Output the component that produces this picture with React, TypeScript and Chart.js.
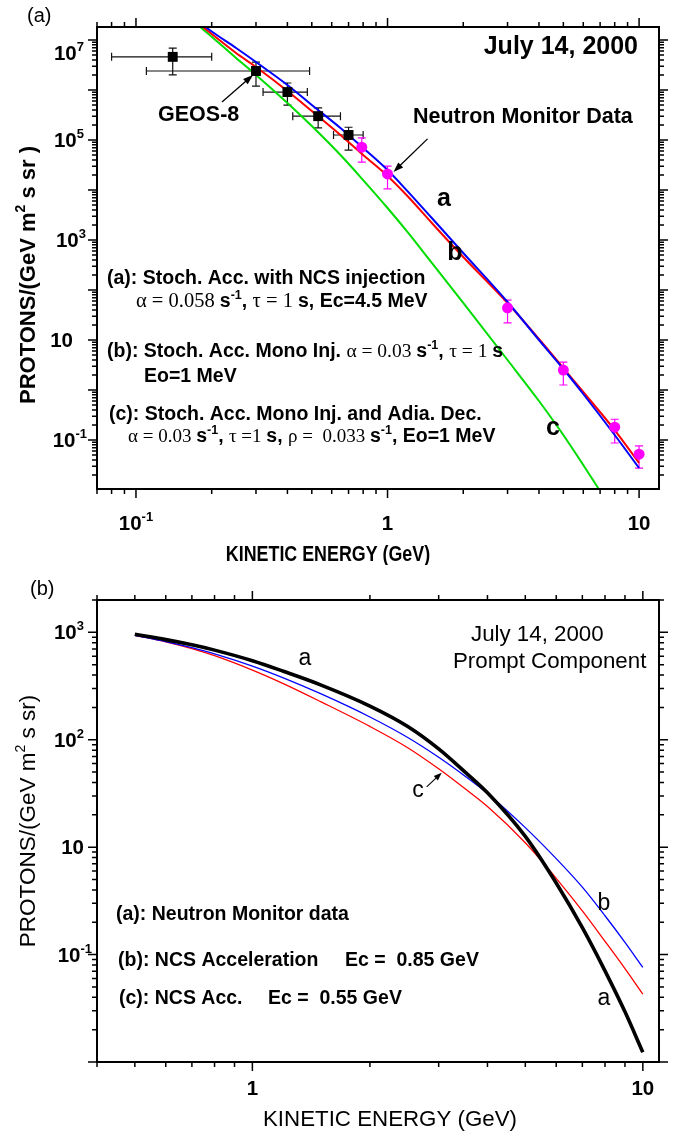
import React, { useEffect, useRef } from 'react';
import { Chart, registerables } from 'chart.js';
Chart.register(...registerables);

// ================= Panel (a) data =================
// model curves (GeV, protons/(GeV m^2 s sr))
const energyCurvesA = [0.18, 0.2, 0.25, 0.3, 0.4, 0.5, 0.65, 0.8, 1, 1.2, 1.5, 2, 3, 4, 5, 6, 8, 10];
const fluxStochNCS = [2.19e7, 1.48e7, 6.92e6, 3.63e6, 1.26e6, 5.01e5, 1.74e5, 6.92e4, 2.51e4, 9.5e3, 2.75e3, 550, 57.5, 10, 2.63, 0.832, 0.126, 0.0275]; // (a) blue
const fluxStochMono = [2.0e7, 1.32e7, 5.5e6, 2.88e6, 9.55e5, 3.8e5, 1.26e5, 5.01e4, 1.91e4, 7.59e3, 2.19e3, 457, 55, 10.5, 2.75, 0.912, 0.158, 0.0347]; // (b) red
const energyCurveAdia = [0.18, 0.2, 0.25, 0.3, 0.4, 0.5, 0.65, 0.8, 1, 1.2, 1.5, 2, 3, 4, 5, 6, 7, 8];
const fluxStochAdia = [1.82e7, 1.16e7, 4.37e6, 2.0e6, 5.5e5, 1.9e5, 5.0e4, 1.58e4, 4.37e3, 1.45e3, 347, 55, 3.98, 0.603, 0.126, 0.0316, 0.0095, 0.00316]; // (c) green

// GEOS-8 points
const geosEnergy = [0.14, 0.3, 0.4, 0.53, 0.7];
const geosFlux = [4.6e6, 2.4e6, 9.1e5, 3.0e5, 1.26e5];
const geosEnergyLow = [0.08, 0.11, 0.32, 0.42, 0.61];
const geosEnergyHigh = [0.2, 0.49, 0.48, 0.65, 0.8];
const geosFluxLow = [2.0e6, 1.2e6, 5.0e5, 1.74e5, 6.3e4];
const geosFluxHigh = [6.9e6, 3.6e6, 1.38e6, 4.4e5, 1.8e5];

// Neutron monitor points
const nmEnergy = [0.79, 1.0, 3.0, 5.0, 8.0, 10.0];
const nmFlux = [7.2e4, 2.1e4, 44, 2.5, 0.18, 0.052];
const nmFluxLow = [3.6e4, 1.05e4, 22, 1.26, 0.087, 0.0275];
const nmFluxHigh = [1.1e5, 3.0e4, 63, 3.6, 0.26, 0.076];

// axis ranges and tick labels (a)
const xRangeA = [0.07, 12];
const yRangeA = [0.01047, 1.82e7];
const xTicksA = [0.1, 1, 10];
const xTickLabelsA = [['10', '-1'], ['1', ''], ['10', '']];
const yTicksA = [1e7, 1e5, 1e3, 10, 0.1];
const yTickLabelsA = [['10', '7'], ['10', '5'], ['10', '3'], ['10', ''], ['10', '-1']];

// ================= Panel (b) data =================
const energyB = [0.5, 0.6, 0.7, 0.8, 1.0, 1.2, 1.5, 2, 2.5, 3, 3.5, 4, 5, 6, 7, 8, 9, 10];
const fluxNeutronMonitor = [958, 855, 765, 683, 544, 434, 323, 206, 133, 82.3, 50.3, 32.1, 12.6, 4.64, 1.78, 0.705, 0.293, 0.123]; // (a) black
const fluxNCS085 = [938, 821, 719, 630, 485, 377, 267, 163, 105, 68.7, 46.0, 31.6, 15.2, 7.82, 4.24, 2.3, 1.3, 0.759]; // (b) blue
const fluxNCS055 = [938, 816, 705, 606, 445, 333, 225, 133, 84.3, 53.6, 35.1, 23.9, 11.0, 5.13, 2.55, 1.33, 0.741, 0.429]; // (c) red

const xRangeB = [0.4, 11];
const yRangeB = [0.1, 2000];
const xTicksB = [1, 10];
const xTickLabelsB = ['1', '10'];
const yTicksB = [1000, 100, 10, 1];
const yTickLabelsB = [['10', '3'], ['10', '2'], ['10', ''], ['10', '-1']];

// ================= helpers =================
const SB = (n: number) => `bold ${n}px "Liberation Sans", Arial, Helvetica, sans-serif`;
const SR = (n: number) => `${n}px "Liberation Sans", Arial, Helvetica, sans-serif`;
const SF = (n: number) => `${n}px "Liberation Serif", "Times New Roman", serif`;

type Seg = { t: string; f: string; dy?: number };

function drawRich(ctx: CanvasRenderingContext2D, segs: Seg[], x: number, y: number, align: 'left' | 'center' | 'right' = 'left', sx = 1) {
  ctx.save();
  ctx.textBaseline = 'alphabetic';
  ctx.textAlign = 'left';
  let w = 0;
  for (const s of segs) {
    ctx.font = s.f;
    w += ctx.measureText(s.t).width;
  }
  w *= sx;
  const x0 = align === 'left' ? x : align === 'center' ? x - w / 2 : x - w;
  ctx.translate(x0, y);
  ctx.scale(sx, 1);
  let px = 0;
  for (const s of segs) {
    ctx.font = s.f;
    ctx.fillText(s.t, px, s.dy || 0);
    px += ctx.measureText(s.t).width;
  }
  ctx.restore();
}

const pts = (xs: number[], ys: number[]) => xs.map((x, i) => ({ x, y: ys[i] }));

function logTicks(min: number, max: number) {
  const out: { v: number; major: boolean }[] = [];
  for (let e = Math.floor(Math.log10(min)) - 1; e <= Math.ceil(Math.log10(max)); e++) {
    for (let k = 1; k <= 9; k++) {
      const v = k * Math.pow(10, e);
      if (v >= min * (1 - 1e-6) && v <= max * (1 + 1e-6)) out.push({ v, major: k === 1 });
    }
  }
  return out;
}

function drawFrame(chart: any) {
  const { ctx, chartArea } = chart;
  const { left, right, top, bottom } = chartArea;
  const xs = chart.scales.x;
  const ys = chart.scales.y;
  ctx.save();
  ctx.strokeStyle = '#000';
  ctx.lineWidth = 1.5;
  ctx.beginPath();
  for (const t of logTicks(xs.min, xs.max)) {
    const px = xs.getPixelForValue(t.v);
    const len = t.major ? 9 : 5;
    ctx.moveTo(px, bottom);
    ctx.lineTo(px, bottom + len);
    ctx.moveTo(px, top);
    ctx.lineTo(px, top - len);
  }
  for (const t of logTicks(ys.min, ys.max)) {
    const py = ys.getPixelForValue(t.v);
    const len = t.major ? 9 : 5;
    ctx.moveTo(left, py);
    ctx.lineTo(left - len, py);
    ctx.moveTo(right, py);
    ctx.lineTo(right + len, py);
  }
  ctx.stroke();
  ctx.lineWidth = 2;
  ctx.strokeRect(left, top, right - left, bottom - top);
  ctx.restore();
}

function errorBars(ctx: CanvasRenderingContext2D, xs: any, ys: any, ex: number[], ey: number[],
  xlo: number[] | null, xhi: number[] | null, ylo: number[] | null, yhi: number[] | null, color: string) {
  ctx.save();
  ctx.strokeStyle = color;
  ctx.lineWidth = 1.2;
  ctx.beginPath();
  ex.forEach((e, i) => {
    const px = xs.getPixelForValue(e);
    const py = ys.getPixelForValue(ey[i]);
    if (ylo && yhi) {
      const y1 = ys.getPixelForValue(ylo[i]);
      const y2 = ys.getPixelForValue(yhi[i]);
      ctx.moveTo(px, y1); ctx.lineTo(px, y2);
      ctx.moveTo(px - 4, y1); ctx.lineTo(px + 4, y1);
      ctx.moveTo(px - 4, y2); ctx.lineTo(px + 4, y2);
    }
    if (xlo && xhi) {
      const x1 = xs.getPixelForValue(xlo[i]);
      const x2 = xs.getPixelForValue(xhi[i]);
      ctx.moveTo(x1, py); ctx.lineTo(x2, py);
      ctx.moveTo(x1, py - 4); ctx.lineTo(x1, py + 4);
      ctx.moveTo(x2, py - 4); ctx.lineTo(x2, py + 4);
    }
  });
  ctx.stroke();
  ctx.restore();
}

function arrow(ctx: CanvasRenderingContext2D, x1: number, y1: number, x2: number, y2: number, head = 10, w = 3.5, lw = 1.3) {
  const a = Math.atan2(y2 - y1, x2 - x1);
  ctx.save();
  ctx.strokeStyle = '#000';
  ctx.fillStyle = '#000';
  ctx.lineWidth = lw;
  ctx.beginPath();
  ctx.moveTo(x1, y1);
  ctx.lineTo(x2 - head * 0.8 * Math.cos(a), y2 - head * 0.8 * Math.sin(a));
  ctx.stroke();
  ctx.beginPath();
  ctx.moveTo(x2, y2);
  ctx.lineTo(x2 - head * Math.cos(a) + w * Math.sin(a), y2 - head * Math.sin(a) - w * Math.cos(a));
  ctx.lineTo(x2 - head * Math.cos(a) - w * Math.sin(a), y2 - head * Math.sin(a) + w * Math.cos(a));
  ctx.closePath();
  ctx.fill();
  ctx.restore();
}

const sup = (t: string, n = 12.5, dy = -8): Seg => ({ t, f: SB(n), dy });

// ================= Panel (a) decorations =================
const decoA = {
  id: 'decoA',
  beforeDatasetsDraw(chart: any) {
    const { ctx } = chart;
    const xs = chart.scales.x;
    const ys = chart.scales.y;
    errorBars(ctx, xs, ys, geosEnergy, geosFlux, geosEnergyLow, geosEnergyHigh, geosFluxLow, geosFluxHigh, '#111');
    errorBars(ctx, xs, ys, nmEnergy, nmFlux, null, null, nmFluxLow, nmFluxHigh, '#ff00ff');
  },
  afterDraw(chart: any) {
    const { ctx } = chart;
    const xs = chart.scales.x;
    const ys = chart.scales.y;
    drawFrame(chart);
    ctx.save();
    ctx.fillStyle = '#000';

    // panel label
    drawRich(ctx, [{ t: '(a)', f: SR(20) }], 27, 22);

    // y tick labels
    const yRight = [84, 84, 86, 73, 87];
    const yDy = [13, 0, 0, 0, 0];
    yTicksA.forEach((v, i) => {
      const py = ys.getPixelForValue(v) + 7 + yDy[i];
      const [b, e] = yTickLabelsA[i];
      const segs: Seg[] = [{ t: b, f: SB(20.5) }];
      if (e) segs.push(sup(e, 13, -9));
      drawRich(ctx, segs, yRight[i], py, 'right');
    });
    // x tick labels
    xTicksA.forEach((v, i) => {
      const px = xs.getPixelForValue(v);
      const [b, e] = xTickLabelsA[i];
      const segs: Seg[] = [{ t: b, f: SB(20.5) }];
      if (e) segs.push(sup(e, 13, -9));
      drawRich(ctx, segs, px, 530, 'center');
    });

    // axis titles
    drawRich(ctx, [{ t: 'KINETIC ENERGY (GeV)', f: SB(21.5) }], 328, 561, 'center', 0.83);
    ctx.save();
    ctx.translate(35, 275);
    ctx.rotate(-Math.PI / 2);
    drawRich(ctx, [{ t: 'PROTONS/(GeV m', f: SB(22) }, { t: '2', f: SB(14), dy: -10 }, { t: ' s sr )', f: SB(22) }], 0, 0, 'center');
    ctx.restore();

    // annotations
    drawRich(ctx, [{ t: 'July 14, 2000', f: SB(25) }], 638, 54, 'right');
    drawRich(ctx, [{ t: 'Neutron Monitor Data', f: SB(21.5) }], 413, 123);
    drawRich(ctx, [{ t: 'GEOS-8', f: SB(21.5) }], 158, 121);

    const gx = xs.getPixelForValue(geosEnergy[1]) - 3;
    const gy = ys.getPixelForValue(geosFlux[1]) + 4;
    arrow(ctx, gx - 31, gy + 27, gx, gy);
    const nx = xs.getPixelForValue(nmEnergy[1]) + 6;
    const ny = ys.getPixelForValue(nmFlux[1]) - 2;
    arrow(ctx, nx + 34, ny - 33, nx, ny);

    // legend text
    const L = 19.5;
    const G = 20.5;
    const G2 = 19;
    drawRich(ctx, [{ t: '(a): Stoch. Acc. with NCS injection', f: SB(L) }], 107, 284);
    drawRich(ctx, [
      { t: 'α = 0.058 ', f: SF(G) }, { t: 's', f: SB(L) }, sup('-1'), { t: ', ', f: SB(L) },
      { t: 'τ = 1 ', f: SF(G) }, { t: 's, Ec=4.5 MeV', f: SB(L) },
    ], 136, 307);
    drawRich(ctx, [
      { t: '(b): Stoch. Acc. Mono Inj. ', f: SB(L) }, { t: 'α = 0.03 ', f: SF(G2 + 0.5) }, { t: 's', f: SB(L) }, sup('-1'),
      { t: ', ', f: SB(L) }, { t: 'τ = 1 ', f: SF(G2 + 0.5) }, { t: 's', f: SB(L) },
    ], 107, 357);
    drawRich(ctx, [{ t: 'Eo=1 MeV', f: SB(L) }], 144, 382);
    drawRich(ctx, [{ t: '(c): Stoch. Acc. Mono Inj. and Adia. Dec.', f: SB(L) }], 109, 420);
    drawRich(ctx, [
      { t: 'α = 0.03 ', f: SF(G2) }, { t: 's', f: SB(L) }, sup('-1'), { t: ', ', f: SB(L) },
      { t: 'τ =1 ', f: SF(G2) }, { t: 's, ', f: SB(L) }, { t: 'ρ =  0.033 ', f: SF(G2) }, { t: 's', f: SB(L) }, sup('-1'),
      { t: ', Eo=1 MeV', f: SB(L) },
    ], 128, 442);

    // curve labels
    drawRich(ctx, [{ t: 'a', f: SB(25) }], 444, 206, 'center');
    drawRich(ctx, [{ t: 'b', f: SB(25) }], 455, 260, 'center');
    drawRich(ctx, [{ t: 'c', f: SB(25) }], 553, 435, 'center');
    ctx.restore();
  },
};

// ================= Panel (b) decorations =================
const decoB = {
  id: 'decoB',
  afterDraw(chart: any) {
    const { ctx } = chart;
    const xs = chart.scales.x;
    const ys = chart.scales.y;
    drawFrame(chart);
    ctx.save();
    ctx.fillStyle = '#000';

    drawRich(ctx, [{ t: '(b)', f: SR(20) }], 30, 30);

    const yRight = [84, 84, 84, 92];
    yTicksB.forEach((v, i) => {
      const py = ys.getPixelForValue(v) + 7;
      const [b, e] = yTickLabelsB[i];
      const segs: Seg[] = [{ t: b, f: SB(20.5) }];
      if (e) segs.push(sup(e, 13, -9));
      drawRich(ctx, segs, yRight[i], py, 'right');
    });
    xTicksB.forEach((v, i) => {
      drawRich(ctx, [{ t: xTickLabelsB[i], f: SB(20.5) }], xs.getPixelForValue(v), 530, 'center');
    });

    drawRich(ctx, [{ t: 'KINETIC ENERGY (GeV)', f: SR(22.3) }], 263, 561);
    ctx.save();
    ctx.translate(35, 256);
    ctx.rotate(-Math.PI / 2);
    drawRich(ctx, [{ t: 'PROTONS/(GeV m', f: SR(22.5) }, { t: '2', f: SR(14), dy: -10 }, { t: ' s sr)', f: SR(22.5) }], 0, 0, 'center');
    ctx.restore();

    drawRich(ctx, [{ t: 'July 14, 2000', f: SR(22.3) }], 471, 76);
    drawRich(ctx, [{ t: 'Prompt Component', f: SR(22.3) }], 453, 103);

    const L = 19.5;
    drawRich(ctx, [{ t: '(a): Neutron Monitor data', f: SB(L) }], 116, 355);
    drawRich(ctx, [{ t: '(b): NCS Acceleration', f: SB(L) }], 118, 401);
    drawRich(ctx, [{ t: 'Ec =  0.85 GeV', f: SB(L) }], 345, 401);
    drawRich(ctx, [{ t: '(c): NCS Acc.', f: SB(L) }], 119, 439);
    drawRich(ctx, [{ t: 'Ec =  0.55 GeV', f: SB(L) }], 268, 439);

    drawRich(ctx, [{ t: 'a', f: SR(23) }], 305, 100, 'center');
    drawRich(ctx, [{ t: 'c', f: SR(23) }], 418, 232, 'center');
    drawRich(ctx, [{ t: 'b', f: SR(23) }], 604, 345, 'center');
    drawRich(ctx, [{ t: 'a', f: SR(23) }], 604, 440, 'center');

    const cx = xs.getPixelForValue(energyB[9]) + 3;
    const cy = ys.getPixelForValue(fluxNCS055[9]) + 4;
    arrow(ctx, cx - 15, cy + 14, cx, cy, 8, 3, 1.1);
    ctx.restore();
  },
};

function baseOptions(xr: number[], yr: number[], padding: any) {
  return {
    responsive: false,
    animation: false,
    devicePixelRatio: 1,
    events: [],
    layout: { padding },
    plugins: { legend: { display: false }, tooltip: { enabled: false } },
    scales: {
      x: { type: 'logarithmic', min: xr[0], max: xr[1], display: false, bounds: 'data' },
      y: { type: 'logarithmic', min: yr[0], max: yr[1], display: false, bounds: 'data' },
    },
  };
}

const curve = (data: any, color: string, width: number) => ({
  data,
  showLine: true,
  borderColor: color,
  backgroundColor: color,
  borderWidth: width,
  pointRadius: 0,
  cubicInterpolationMode: 'monotone',
  fill: false,
  clip: 0,
});

export default function App() {
  const refA = useRef<HTMLCanvasElement>(null);
  const refB = useRef<HTMLCanvasElement>(null);

  useEffect(() => {
    const chartA = new Chart(refA.current as HTMLCanvasElement, {
      type: 'scatter',
      data: {
        datasets: [
          { label: 'GEOS-8', data: pts(geosEnergy, geosFlux), pointStyle: 'rect', pointRadius: 7, backgroundColor: '#000', borderColor: '#000', borderWidth: 0 },
          { label: 'Neutron Monitor Data', data: pts(nmEnergy, nmFlux), pointStyle: 'circle', pointRadius: 5.5, backgroundColor: '#ff00ff', borderColor: '#ff00ff', borderWidth: 0 },
          { label: 'a', ...curve(pts(energyCurvesA, fluxStochNCS), '#0000ff', 2) },
          { label: 'b', ...curve(pts(energyCurvesA, fluxStochMono), '#ff0000', 2) },
          { label: 'c', ...curve(pts(energyCurveAdia, fluxStochAdia), '#00dd00', 2) },
        ],
      } as any,
      options: baseOptions(xRangeA, yRangeA, { left: 97, top: 27, right: 19, bottom: 76 }) as any,
      plugins: [decoA as any],
    });
    const chartB = new Chart(refB.current as HTMLCanvasElement, {
      type: 'scatter',
      data: {
        datasets: [
          { label: 'a', ...curve(pts(energyB, fluxNeutronMonitor), '#000000', 3.6) },
          { label: 'b', ...curve(pts(energyB, fluxNCS085), '#0000ff', 1.3) },
          { label: 'c', ...curve(pts(energyB, fluxNCS055), '#ff0000', 1.3) },
        ],
      } as any,
      options: baseOptions(xRangeB, yRangeB, { left: 97, top: 35, right: 19, bottom: 69 }) as any,
      plugins: [decoB as any],
    });
    return () => {
      chartA.destroy();
      chartB.destroy();
    };
  }, []);

  return (
    <div style={{ position: 'absolute', left: 0, top: 0, width: 678, height: 1131, background: '#fff' }}>
      <canvas ref={refA} width={678} height={565} style={{ position: 'absolute', left: 0, top: 0, width: 678, height: 565 }} />
      <canvas ref={refB} width={678} height={566} style={{ position: 'absolute', left: 0, top: 565, width: 678, height: 566 }} />
    </div>
  );
}
